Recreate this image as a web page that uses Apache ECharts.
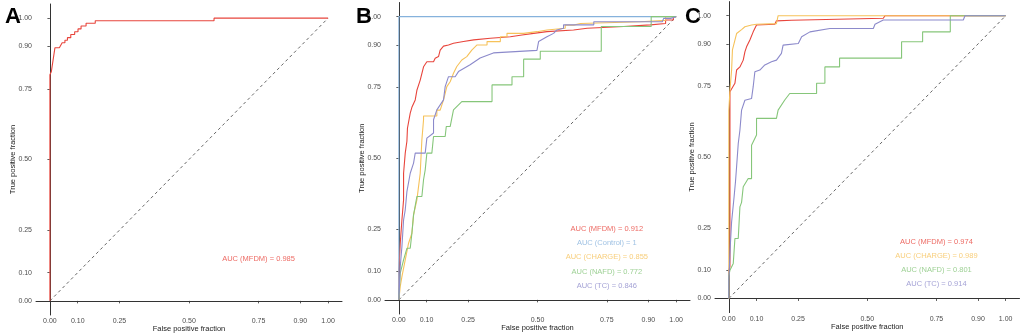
<!DOCTYPE html>
<html>
<head>
<meta charset="utf-8">
<script src="https://cdn.jsdelivr.net/npm/echarts@6/dist/echarts.min.js"></script>
<style>
  html, body { margin: 0; padding: 0; background: #fff; }
  #chart { width: 1023px; height: 335px; }
</style>
</head>
<body>
<div id="chart"></div>
<script>
// tick positions shared by every panel
const tickValues = [0, 0.1, 0.25, 0.5, 0.75, 0.9, 1];

// panel A
const fprA_MFDM = [0, 0, 0.005, 0.018, 0.034, 0.044, 0.054, 0.054, 0.063, 0.063, 0.075, 0.075, 0.089, 0.089, 0.101, 0.101, 0.112, 0.112, 0.130, 0.130, 0.163, 0.163, 0.59, 0.59, 1];
const tprA_MFDM = [0, 0.80, 0.81, 0.895, 0.895, 0.913, 0.913, 0.922, 0.922, 0.931, 0.931, 0.942, 0.942, 0.952, 0.952, 0.962, 0.962, 0.972, 0.972, 0.982, 0.982, 0.991, 0.991, 1, 1];

// panel B
const fprB_MFDM = [0, 0, 0.005, 0.011, 0.017, 0.017, 0.023, 0.023, 0.029, 0.031, 0.041, 0.047, 0.059, 0.065, 0.077, 0.083, 0.089, 0.101, 0.125, 0.131, 0.143, 0.149, 0.161, 0.179, 0.197, 0.233, 0.233, 0.27, 0.27, 0.33, 0.33, 0.402, 0.402, 0.444, 0.444, 0.486, 0.486, 0.534, 0.534, 0.63, 0.63, 0.679, 0.679, 0.811, 0.811, 0.907, 0.907, 0.962, 0.962, 0.99, 0.99, 1];
const tprB_MFDM = [0, 0.1, 0.2, 0.282, 0.353, 0.447, 0.447, 0.518, 0.56, 0.606, 0.659, 0.68, 0.706, 0.74, 0.776, 0.776, 0.823, 0.841, 0.841, 0.853, 0.859, 0.882, 0.896, 0.9, 0.906, 0.912, 0.918, 0.918, 0.924, 0.924, 0.929, 0.929, 0.935, 0.935, 0.941, 0.941, 0.947, 0.947, 0.953, 0.953, 0.959, 0.959, 0.965, 0.965, 0.971, 0.971, 0.976, 0.976, 0.988, 0.988, 1, 1];
const fprB_Control = [0, 0, 1];
const tprB_Control = [0, 1, 1];
const fprB_CHARGE = [0, 0.005, 0.011, 0.023, 0.035, 0.047, 0.053, 0.065, 0.077, 0.083, 0.089, 0.089, 0.137, 0.137, 0.149, 0.161, 0.167, 0.173, 0.185, 0.197, 0.209, 0.227, 0.245, 0.263, 0.282, 0.318, 0.318, 0.366, 0.366, 0.39, 0.39, 0.45, 0.45, 0.498, 0.498, 0.534, 0.534, 0.6, 0.6, 0.631, 0.631, 0.655, 0.655, 0.871, 0.871, 0.962, 0.962, 1];
const tprB_CHARGE = [0, 0.047, 0.082, 0.141, 0.2, 0.235, 0.3, 0.353, 0.447, 0.565, 0.636, 0.649, 0.649, 0.67, 0.67, 0.706, 0.729, 0.753, 0.77, 0.8, 0.824, 0.847, 0.859, 0.882, 0.9, 0.9, 0.912, 0.912, 0.929, 0.929, 0.941, 0.941, 0.947, 0.947, 0.953, 0.953, 0.959, 0.959, 0.97, 0.97, 0.976, 0.976, 0.982, 0.982, 0.987, 0.987, 1, 1];
const fprB_NAFD = [0, 0.005, 0.017, 0.029, 0.041, 0.047, 0.053, 0.065, 0.083, 0.089, 0.095, 0.101, 0.119, 0.125, 0.167, 0.171, 0.185, 0.197, 0.227, 0.336, 0.336, 0.408, 0.408, 0.45, 0.45, 0.51, 0.51, 0.73, 0.73, 0.91, 0.91, 1];
const tprB_NAFD = [0, 0.094, 0.141, 0.182, 0.182, 0.235, 0.3, 0.365, 0.365, 0.424, 0.459, 0.518, 0.518, 0.577, 0.577, 0.612, 0.612, 0.671, 0.7, 0.7, 0.759, 0.759, 0.788, 0.788, 0.85, 0.85, 0.878, 0.878, 0.965, 0.965, 1, 1];
const fprB_TC = [0, 0.005, 0.011, 0.017, 0.023, 0.029, 0.041, 0.053, 0.059, 0.095, 0.101, 0.125, 0.125, 0.137, 0.161, 0.167, 0.179, 0.203, 0.215, 0.257, 0.293, 0.341, 0.498, 0.504, 0.534, 0.558, 0.57, 0.594, 0.594, 0.703, 0.703, 0.95, 0.955, 0.98, 0.98, 1];
const tprB_TC = [0, 0.118, 0.188, 0.282, 0.318, 0.382, 0.447, 0.483, 0.518, 0.518, 0.571, 0.589, 0.636, 0.671, 0.706, 0.753, 0.788, 0.788, 0.806, 0.83, 0.854, 0.872, 0.881, 0.912, 0.929, 0.941, 0.953, 0.959, 0.971, 0.971, 0.982, 0.982, 0.994, 0.994, 1, 1];

// panel C
const fprC_MFDM = [0, 0, 0.004, 0.004, 0.01, 0.022, 0.028, 0.04, 0.052, 0.058, 0.064, 0.076, 0.088, 0.1, 0.166, 0.172, 0.227, 0.233, 0.558, 0.564, 1];
const tprC_MFDM = [0, 0.1, 0.112, 0.731, 0.737, 0.761, 0.808, 0.819, 0.843, 0.872, 0.89, 0.914, 0.943, 0.967, 0.97, 0.982, 0.984, 0.991, 0.991, 1, 1];
const fprC_CHARGE = [0, 0, 0.004, 0.01, 0.013, 0.022, 0.028, 0.046, 0.058, 0.082, 0.1, 0.172, 0.178, 1];
const tprC_CHARGE = [0, 0.666, 0.737, 0.808, 0.879, 0.914, 0.937, 0.951, 0.961, 0.967, 0.97, 0.972, 1, 1];
const fprC_NAFD = [0, 0, 0.004, 0.016, 0.022, 0.034, 0.04, 0.046, 0.052, 0.07, 0.082, 0.082, 0.1, 0.1, 0.172, 0.178, 0.202, 0.22, 0.317, 0.317, 0.347, 0.347, 0.4, 0.4, 0.624, 0.624, 0.7, 0.7, 0.8, 0.8, 1];
const tprC_NAFD = [0, 0.08, 0.1, 0.124, 0.212, 0.212, 0.324, 0.34, 0.395, 0.424, 0.424, 0.542, 0.578, 0.637, 0.637, 0.666, 0.702, 0.725, 0.725, 0.761, 0.761, 0.819, 0.819, 0.85, 0.85, 0.908, 0.908, 0.943, 0.943, 1, 1];
const fprC_TC = [0, 0, 0.006, 0.01, 0.016, 0.019, 0.024, 0.028, 0.034, 0.04, 0.046, 0.058, 0.082, 0.088, 0.094, 0.112, 0.13, 0.154, 0.172, 0.19, 0.196, 0.202, 0.251, 0.263, 0.293, 0.365, 0.522, 0.528, 0.558, 0.847, 0.853, 1];
const tprC_TC = [0, 0.065, 0.2, 0.271, 0.271, 0.36, 0.413, 0.466, 0.548, 0.595, 0.666, 0.701, 0.707, 0.749, 0.802, 0.808, 0.826, 0.837, 0.843, 0.867, 0.896, 0.902, 0.902, 0.926, 0.943, 0.955, 0.955, 0.97, 0.985, 0.985, 1, 1];

// AUC annotations
const aucA = ['AUC (MFDM) = 0.985'];
const aucB = ['AUC (MFDM) = 0.912', 'AUC (Control) = 1', 'AUC (CHARGE) = 0.855', 'AUC (NAFD) = 0.772', 'AUC (TC) = 0.846'];
const aucC = ['AUC (MFDM) = 0.974', 'AUC (CHARGE) = 0.989', 'AUC (NAFD) = 0.801', 'AUC (TC) = 0.914'];

const colors = {
  MFDM: '#e8453c',
  Control: '#86b2dc',
  CHARGE: '#f6c25a',
  NAFD: '#86c67a',
  TC: '#8c8acb'
};

const font = 'Liberation Sans, Arial, sans-serif';

const panels = [
  {
    letter: 'A', grid: { left: 36, top: 4, width: 306, height: 311 },
    curves: [['MFDM', fprA_MFDM, tprA_MFDM]],
    labels: aucA, labelKeys: ['MFDM'], labelY: [0.15]
  },
  {
    letter: 'B', grid: { left: 385, top: 2.5, width: 305, height: 311.5 },
    curves: [['MFDM', fprB_MFDM, tprB_MFDM], ['Control', fprB_Control, tprB_Control],
             ['CHARGE', fprB_CHARGE, tprB_CHARGE], ['NAFD', fprB_NAFD, tprB_NAFD], ['TC', fprB_TC, tprB_TC]],
    labels: aucB, labelKeys: ['MFDM', 'Control', 'CHARGE', 'NAFD', 'TC'], labelY: [0.25, 0.2, 0.15, 0.1, 0.05]
  },
  {
    letter: 'C', grid: { left: 715, top: 1.6, width: 304.5, height: 311 },
    curves: [['MFDM', fprC_MFDM, tprC_MFDM], ['CHARGE', fprC_CHARGE, tprC_CHARGE],
             ['NAFD', fprC_NAFD, tprC_NAFD], ['TC', fprC_TC, tprC_TC]],
    labels: aucC, labelKeys: ['MFDM', 'CHARGE', 'NAFD', 'TC'], labelY: [0.2, 0.15, 0.1, 0.05]
  }
];

const zip = (xs, ys) => xs.map((x, i) => [x, ys[i]]);

const axisCommon = {
  type: 'value',
  min: -0.05,
  max: 1.05,
  nameLocation: 'middle',
  nameMoveOverlap: false,
  nameTextStyle: { fontFamily: font, fontSize: 7.5, color: '#222' },
  axisLine: { show: true, lineStyle: { color: '#333', width: 1 } },
  axisTick: { show: true, customValues: tickValues, length: 2.5, lineStyle: { color: '#333', width: 0.8 } },
  axisLabel: {
    customValues: tickValues,
    formatter: v => v.toFixed(2),
    fontFamily: font, fontSize: 7, color: '#4d4d4d'
  },
  splitLine: { show: false }
};

const grids = [], xAxes = [], yAxes = [], series = [], titles = [];

panels.forEach((p, i) => {
  grids.push(Object.assign({ outerBoundsMode: 'none', containLabel: false }, p.grid));
  xAxes.push(Object.assign({}, axisCommon, {
    gridIndex: i, name: 'False positive fraction', nameGap: 10,
    axisLabel: Object.assign({}, axisCommon.axisLabel, { margin: 3 })
  }));
  yAxes.push(Object.assign({}, axisCommon, {
    gridIndex: i, name: 'True positive fraction', nameGap: 19,
    axisLabel: Object.assign({}, axisCommon.axisLabel, { margin: 4 })
  }));
  titles.push({
    text: p.letter,
    left: [0, 351, 680][i], top: 1,
    textStyle: { fontFamily: font, fontSize: 22, fontWeight: 'bold', color: '#000' }
  });

  // reference diagonal
  series.push({
    type: 'line', xAxisIndex: i, yAxisIndex: i, symbol: 'none', silent: true,
    data: [[0, 0], [1, 1]],
    lineStyle: { color: '#555', width: 0.9, type: [3, 3] }
  });

  p.curves.forEach(([key, fpr, tpr]) => {
    series.push({
      type: 'line', name: key, xAxisIndex: i, yAxisIndex: i, symbol: 'none', silent: true,
      data: zip(fpr, tpr),
      lineStyle: { color: colors[key], width: 1.1 }
    });
  });

  p.labels.forEach((txt, j) => {
    series.push({
      type: 'scatter', xAxisIndex: i, yAxisIndex: i, silent: true,
      symbolSize: 1, itemStyle: { color: 'rgba(0,0,0,0)' },
      data: [[0.75, p.labelY[j]]],
      label: {
        show: true, position: 'inside', formatter: txt,
        fontFamily: font, fontSize: 7.5, color: colors[p.labelKeys[j]]
      }
    });
  });
});

const chart = echarts.init(document.getElementById('chart'), null, { renderer: 'canvas' });
chart.setOption({
  animation: false,
  backgroundColor: '#fff',
  title: titles,
  grid: grids,
  xAxis: xAxes,
  yAxis: yAxes,
  series: series
});
</script>
</body>
</html>
